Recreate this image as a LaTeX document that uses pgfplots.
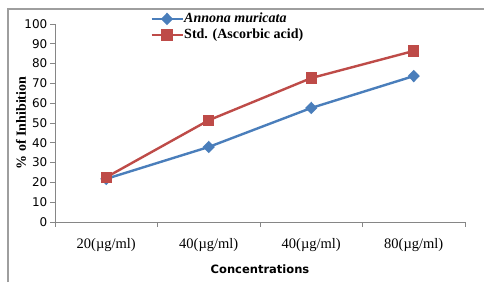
\documentclass[border=0pt]{standalone}
\usepackage{fontspec}
\setmainfont{Liberation Serif}
\newfontfamily\dv{DejaVu Sans}
\usepackage{pgfplots}
\pgfplotsset{compat=1.18}
\definecolor{blu}{HTML}{4A7EBB}
\definecolor{rd}{HTML}{BE4B48}
\definecolor{axg}{HTML}{868686}
\begin{document}
\begin{tikzpicture}[x=1pt,y=1pt]
\useasboundingbox (0,0) rectangle (484,282);
\draw[axg!80, line width=1.2pt] (8,0) -- (8,273) -- (484,273);
\begin{axis}[
  at={(55pt,60pt)}, anchor=south west,
  scale only axis, width=410pt, height=198pt,
  xmin=0, xmax=4, ymin=0, ymax=100,
  axis x line=bottom, axis y line=left,
  axis line style={-, axg, line width=0.8pt},
  tick style={axg, line width=0.8pt},
  major tick length=4.5pt,
  tick align=outside,
  ytick={0,10,...,100},
  xtick={0,1,2,3,4},
  xticklabels={20(\textmu g/ml),40(\textmu g/ml),40(\textmu g/ml),80(\textmu g/ml)},
  x tick label as interval,
  /pgf/number format/assume math mode=true,
  yticklabel style={font=\dv\fontsize{12}{13}\selectfont, inner sep=1pt, xshift=-2pt},
  xticklabel style={font=\fontsize{14.5}{15}\selectfont, yshift=-8pt},
  xlabel={Concentrations},
  xlabel style={font=\dv\bfseries\fontsize{11.5}{12}\selectfont, at={(axis description cs:0.5,-0.237)}, anchor=center},
  ylabel={\% of Inhibition},
  ylabel style={font=\bfseries\fontsize{14}{15}\selectfont, at={(axis description cs:-0.083,0.5)}, anchor=center, rotate=0},
  legend style={at={(axis description cs:0.232,1.062)}, anchor=north west, draw=none, fill=none,
    font=\bfseries\fontsize{14}{15}\selectfont, row sep=2pt, inner sep=0pt,
    nodes={inner sep=0.5pt, text height=10pt, text depth=3pt}},
  legend cell align=left,
  legend image code/.code={\draw[mark repeat=2,mark phase=2] plot coordinates {(0pt,0pt) (15.5pt,0pt) (31pt,0pt)};},
  clip=false,
]
\addplot[blu, line width=2.4pt, mark=diamond*, mark size=4.5pt, mark options={solid, xscale=1.3}] coordinates {(0.5,21.8) (1.5,37.9) (2.5,57.6) (3.5,73.7)};
\addlegendentry{\itshape Annona muricata}
\addplot[rd, line width=2.4pt, mark=square*, mark size=4.5pt] coordinates {(0.5,22.6) (1.5,51.4) (2.5,72.7) (3.5,86.4)};
\addlegendentry{Std. (Ascorbic acid)}
\end{axis}
\end{tikzpicture}
\end{document}
